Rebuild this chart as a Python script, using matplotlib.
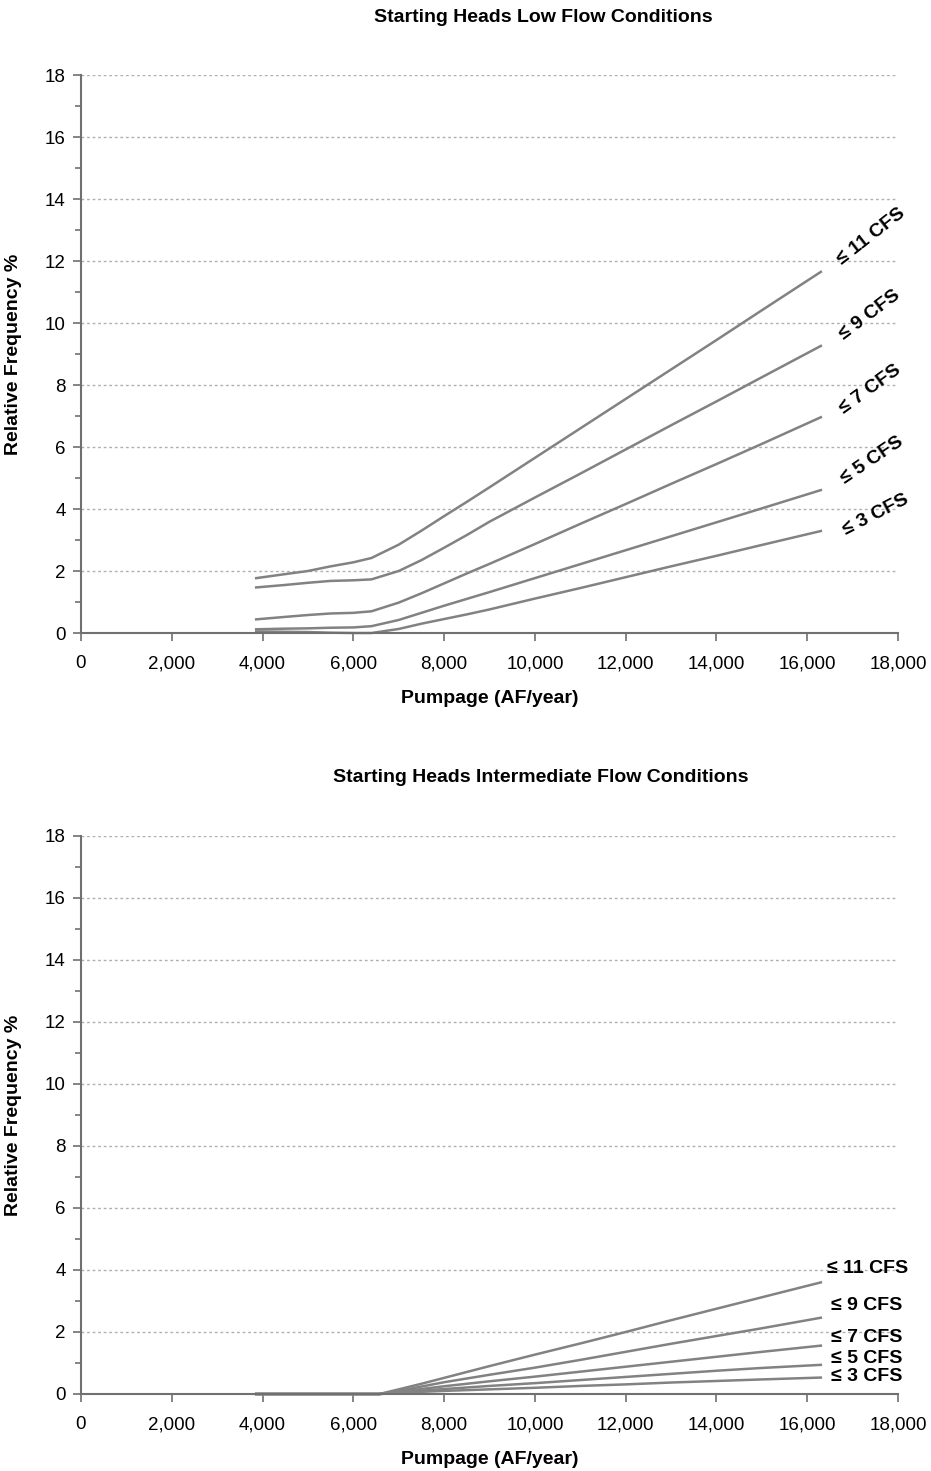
import matplotlib
matplotlib.use("Agg")
import matplotlib.pyplot as plt
from matplotlib.ticker import MultipleLocator, FuncFormatter

plt.rcParams['font.family'] = ['Liberation Sans', 'DejaVu Sans']

# Pumpage values (AF/year)
pump_low = [3860, 4500, 5000, 5500, 6000, 6400, 7000, 7500, 8000, 8500,
            9000, 10000, 11000, 12000, 13000, 14000, 15000, 16300]

# Low flow conditions: relative frequency (%) of flows at or below each threshold
low_11 = [1.77, 1.90, 2.00, 2.15, 2.28, 2.42, 2.85, 3.30, 3.77, 4.23,
          4.70, 5.65, 6.60, 7.55, 8.50, 9.45, 10.41, 11.65]
low_9 = [1.47, 1.55, 1.62, 1.68, 1.70, 1.73, 2.00, 2.35, 2.75, 3.16,
         3.59, 4.37, 5.14, 5.92, 6.70, 7.47, 8.25, 9.26]
low_7 = [0.44, 0.52, 0.58, 0.63, 0.65, 0.70, 0.98, 1.28, 1.60, 1.92,
         2.23, 2.87, 3.52, 4.16, 4.81, 5.45, 6.10, 6.96]
low_5 = [0.12, 0.14, 0.15, 0.17, 0.18, 0.22, 0.42, 0.65, 0.88, 1.10,
         1.32, 1.77, 2.22, 2.67, 3.12, 3.57, 4.02, 4.61]
low_3 = [0.05, 0.04, 0.03, 0.01, 0.00, 0.00, 0.13, 0.30, 0.45, 0.60,
         0.76, 1.11, 1.45, 1.80, 2.15, 2.49, 2.84, 3.29]

pump_mid = [3860, 4500, 5000, 5500, 6000, 6575, 7000, 7500, 8000, 9000,
            10000, 11000, 12000, 13000, 14000, 15000, 16300]

# Intermediate flow conditions
mid_11 = [0, 0, 0, 0, 0, 0, 0.15, 0.33, 0.52, 0.90, 1.27, 1.63, 2.00,
          2.38, 2.75, 3.12, 3.60]
mid_9 = [0, 0, 0, 0, 0, 0, 0.10, 0.24, 0.38, 0.62, 0.85, 1.10, 1.36,
         1.62, 1.87, 2.12, 2.46]
mid_7 = [0, 0, 0, 0, 0, 0, 0.07, 0.16, 0.25, 0.41, 0.56, 0.72, 0.88,
         1.04, 1.20, 1.36, 1.56]
mid_5 = [0, 0, 0, 0, 0, 0, 0.05, 0.11, 0.16, 0.26, 0.35, 0.45, 0.55,
         0.65, 0.75, 0.84, 0.94]
mid_3 = [0, 0, 0, 0, 0, 0, 0.03, 0.07, 0.10, 0.15, 0.20, 0.26, 0.31,
         0.37, 0.42, 0.47, 0.53]

labels = ["\u2264 11 CFS", "\u2264 9 CFS", "\u2264 7 CFS", "\u2264 5 CFS", "\u2264 3 CFS"]

# label anchors
low_label_x = [17400, 17380, 17380, 17420, 17520]
low_label_y = [12.8, 10.25, 7.85, 5.58, 3.82]
low_label_rot = [38, 37, 36, 34, 27]
mid_label_x = [16430, 16530, 16530, 16530, 16530]
mid_label_y = [4.05, 2.87, 1.81, 1.16, 0.55]

W, H = 931, 1471
fig = plt.figure(figsize=(W / 100, H / 100), dpi=100)

line_color = "#828282"
axis_color = "#707070"
FS = 14


def make_axes(top_px, bottom_px):
    left, right = 81, 898
    ax = fig.add_axes([left / W, 1 - bottom_px / H, (right - left) / W,
                       (bottom_px - top_px) / H])
    ax.set_xlim(0, 18000)
    ax.set_ylim(0, 18)
    ax.xaxis.set_major_locator(MultipleLocator(2000))
    ax.yaxis.set_major_locator(MultipleLocator(2))
    ax.yaxis.set_minor_locator(MultipleLocator(1))
    ax.xaxis.set_major_formatter(FuncFormatter(lambda v, p: f"{int(v):,}"))
    ax.yaxis.set_major_formatter(FuncFormatter(lambda v, p: f"{int(v)}"))
    for s in ("top", "right"):
        ax.spines[s].set_visible(False)
    for s in ("left", "bottom"):
        ax.spines[s].set_color(axis_color)
        ax.spines[s].set_linewidth(1.5)
    ax.tick_params(axis="both", which="major", length=6, width=1.2,
                   color=axis_color, labelsize=13.5, labelcolor="black")
    ax.tick_params(axis="x", pad=10)
    ax.tick_params(axis="y", which="minor", length=4, width=1.2, color=axis_color)
    ax.tick_params(axis="y", pad=5)
    ax.grid(axis="y", which="major", linestyle=(0, (2, 2)), color="#b0b0b0",
            linewidth=1.0)
    ax.set_axisbelow(True)
    ax.set_xlabel("Pumpage (AF/year)", fontsize=FS, fontweight="bold",
                  labelpad=13)
    ax.set_ylabel("Relative Frequency %", fontsize=FS, fontweight="bold")
    ax.yaxis.set_label_coords(-0.072, 0.5)
    return ax


ax1 = make_axes(75, 633)
fig.text(543 / W, 1 - 17 / H, "Starting Heads Low Flow Conditions",
         fontsize=FS, fontweight="bold", ha="center", va="center")
for series in (low_11, low_9, low_7, low_5, low_3):
    ax1.plot(pump_low, series, color=line_color, linewidth=1.8, clip_on=False)
for lab, x, y, r in zip(labels, low_label_x, low_label_y, low_label_rot):
    ax1.text(x, y, lab, rotation=r, fontsize=FS, fontweight="bold",
             ha="center", va="center", rotation_mode="anchor", clip_on=False)

ax2 = make_axes(836, 1394)
fig.text(541 / W, 1 - 777 / H, "Starting Heads Intermediate Flow Conditions",
         fontsize=FS, fontweight="bold", ha="center", va="center")
for series in (mid_11, mid_9, mid_7, mid_5, mid_3):
    ax2.plot(pump_mid, series, color=line_color, linewidth=1.8, clip_on=False)
for lab, x, y in zip(labels, mid_label_x, mid_label_y):
    ax2.text(x, y, lab, fontsize=FS, fontweight="bold", ha="left",
             va="center", clip_on=False)

fig.savefig("out.png", dpi=100, facecolor="white")
